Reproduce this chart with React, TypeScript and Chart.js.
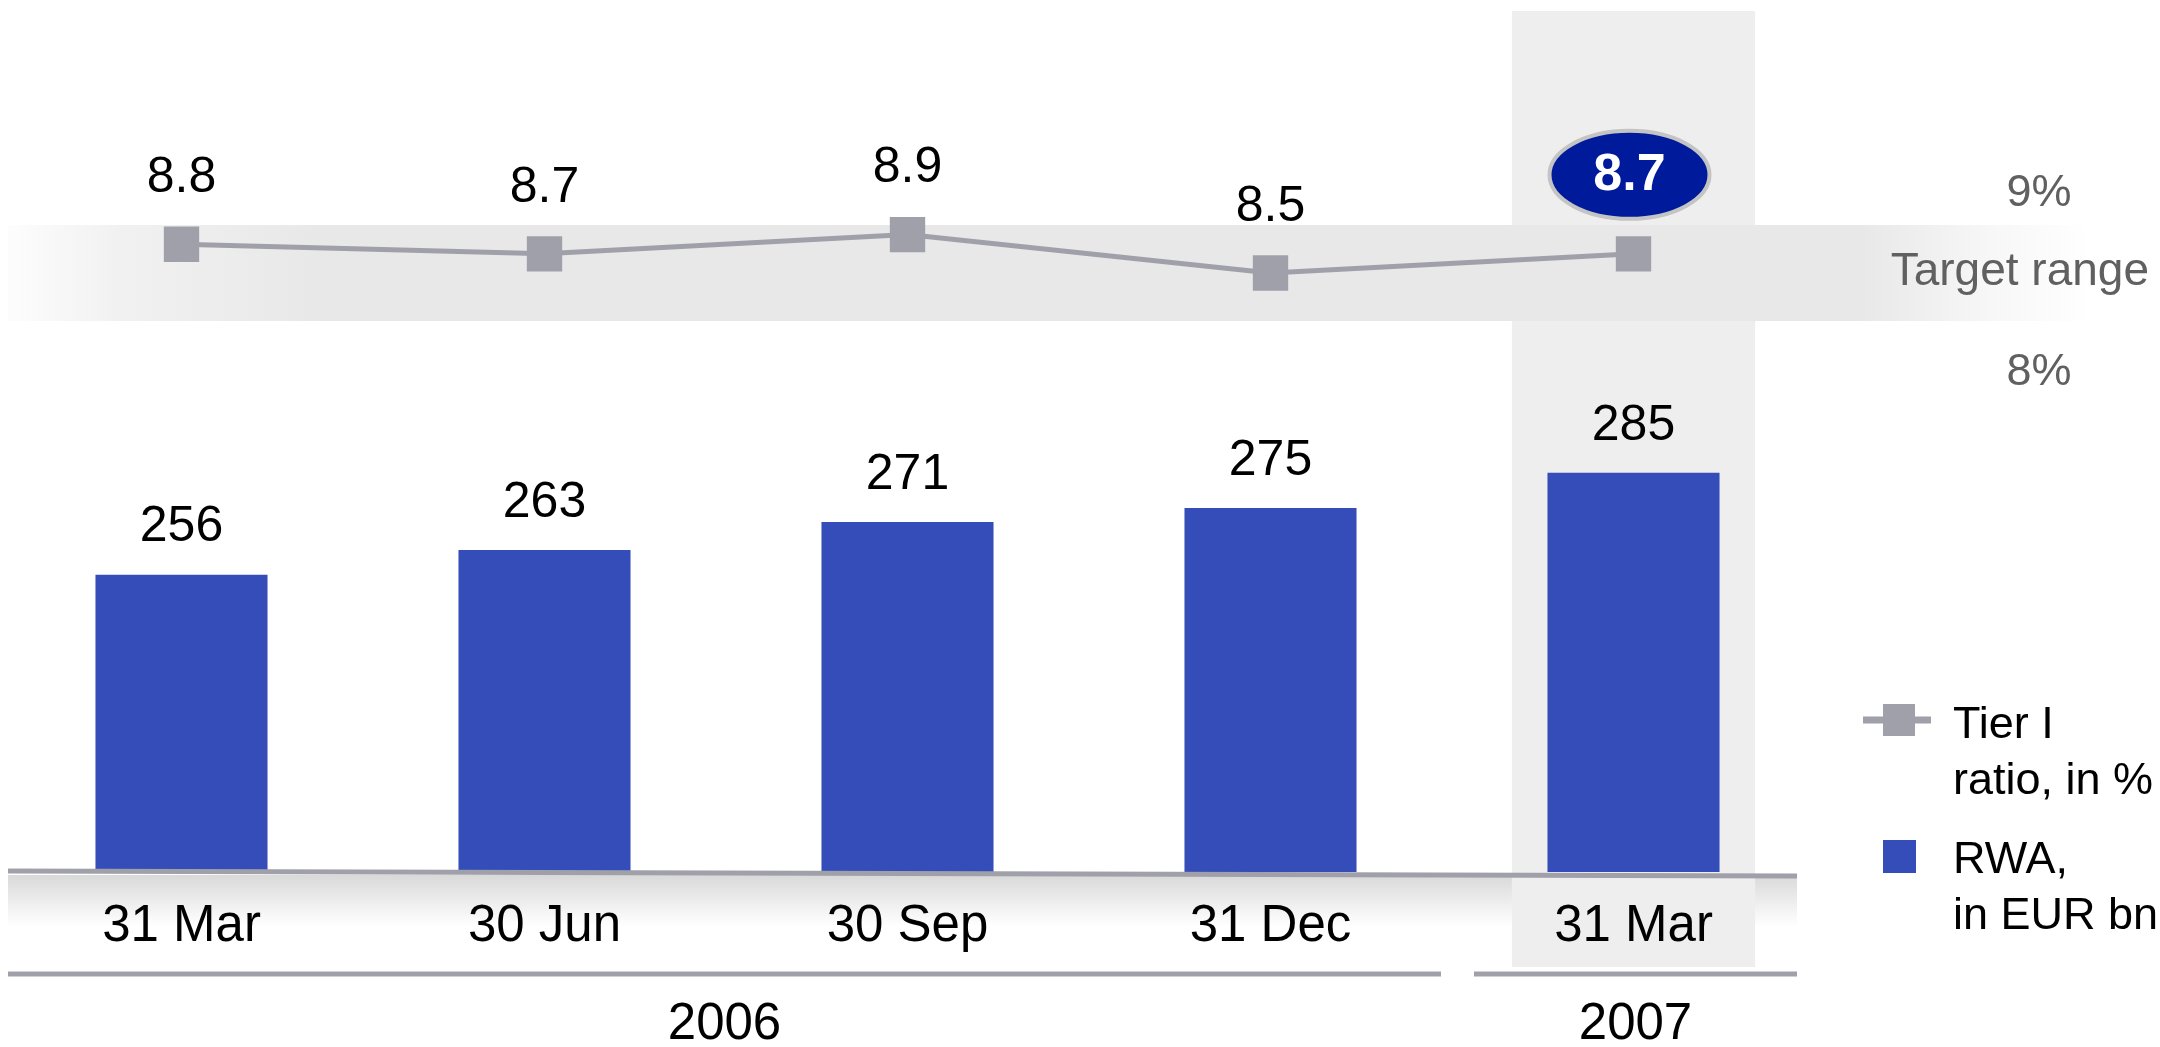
import React, { useEffect, useRef } from "react";
import { Chart, registerables } from "chart.js";

Chart.register(...registerables);

// ---- data ----
const categories = ["31 Mar", "30 Jun", "30 Sep", "31 Dec", "31 Mar"];
const rwaValues = [256, 263, 271, 275, 285];
const tierValues = [8.8, 8.7, 8.9, 8.5, 8.7];
const yearLabels = ["2006", "2007"];
const yearSpans = [
  [0, 3],
  [4, 4],
];
const highlightIndex = 4;
const targetRange = [8, 9];
const targetLabels = ["9%", "Target range", "8%"];
const legendTier = ["Tier I", "ratio, in %"];
const legendRwa = ["RWA,", "in EUR bn"];

const FONT = '"Liberation Sans", Arial, Helvetica, sans-serif';
const BAR_COLOR = "#344DB8";
const LINE_COLOR = "#A0A0AA";

const decorPlugin = {
  id: "decor",
  beforeDatasetsDraw(chart: any) {
    const { ctx, scales } = chart;
    const x = scales.x;
    const yL = scales.yLine;
    const catW = x.getPixelForValue(1) - x.getPixelForValue(0);
    const bottom = chart.chartArea.bottom;
    ctx.save();
    // bottom label band gradient
    const gb = ctx.createLinearGradient(0, bottom + 3, 0, bottom + 96);
    gb.addColorStop(0, "#D9D9D9");
    gb.addColorStop(0.55, "#FFFFFF");
    gb.addColorStop(1, "#FFFFFF");
    ctx.fillStyle = gb;
    ctx.fillRect(8, bottom + 3, 1789, 93);
    // highlight column
    const hx = x.getPixelForValue(highlightIndex);
    ctx.fillStyle = "#EEEEEE";
    ctx.fillRect(hx - catW * 0.335, 11, catW * 0.67, bottom + 95 - 11);
    // target band
    const yTop = yL.getPixelForValue(targetRange[1]);
    const yBot = yL.getPixelForValue(targetRange[0]);
    const x0 = 8;
    const x1 = 2160;
    const gw = x1 - x0;
    const g = ctx.createLinearGradient(x0, 0, x1, 0);
    g.addColorStop(0, "#FDFDFD");
    g.addColorStop((120 - x0) / gw, "#F1F1F1");
    g.addColorStop((320 - x0) / gw, "#E8E8E8");
    g.addColorStop((1860 - x0) / gw, "#E8E8E8");
    g.addColorStop((1990 - x0) / gw, "#F7F7F7");
    g.addColorStop((2090 - x0) / gw, "#FFFFFF");
    g.addColorStop(1, "#FFFFFF");
    ctx.fillStyle = g;
    ctx.fillRect(x0, yTop, gw, yBot - yTop);
    ctx.restore();
  },
  afterDatasetsDraw(chart: any) {
    const { ctx, scales } = chart;
    const x = scales.x;
    const yL = scales.yLine;
    const bottom = chart.chartArea.bottom;
    const catW = x.getPixelForValue(1) - x.getPixelForValue(0);
    ctx.save();

    // baseline (slightly sloped)
    ctx.strokeStyle = LINE_COLOR;
    ctx.lineWidth = 5;
    ctx.beginPath();
    ctx.moveTo(8, bottom - 1);
    ctx.lineTo(1797, bottom + 4);
    ctx.stroke();

    // year group lines
    ctx.lineWidth = 5;
    yearSpans.forEach((span, i) => {
      const left = x.getPixelForValue(span[0]) - catW / 2;
      const right = x.getPixelForValue(span[1]) + catW / 2;
      const a = i === 0 ? left + 8 : left + 22;
      const b = i === 0 ? right - 11 : right - 18;
      ctx.beginPath();
      ctx.moveTo(a, bottom + 102);
      ctx.lineTo(b, bottom + 102);
      ctx.stroke();
      ctx.fillStyle = "#000";
      ctx.font = `51px ${FONT}`;
      ctx.textAlign = "center";
      ctx.textBaseline = "middle";
      ctx.fillText(yearLabels[i], (a + b) / 2, bottom + 153);
    });

    // category labels
    ctx.fillStyle = "#000";
    ctx.font = `51px ${FONT}`;
    ctx.textAlign = "center";
    ctx.textBaseline = "middle";
    categories.forEach((c, i) => {
      ctx.fillText(c, x.getPixelForValue(i), bottom + 55);
    });

    // bar value labels
    const barMeta = chart.getDatasetMeta(1);
    ctx.font = `50px ${FONT}`;
    barMeta.data.forEach((el: any, i: number) => {
      ctx.fillText(String(rwaValues[i]), el.x, el.y - 47);
    });

    // line value labels
    const lineMeta = chart.getDatasetMeta(0);
    lineMeta.data.forEach((el: any, i: number) => {
      const txt = tierValues[i].toFixed(1);
      if (i === highlightIndex) {
        const cx = el.x - 4;
        const cy = el.y - 79;
        ctx.beginPath();
        ctx.ellipse(cx, cy, 80, 44, 0, 0, Math.PI * 2);
        ctx.fillStyle = "#001A9C";
        ctx.fill();
        ctx.lineWidth = 4;
        ctx.strokeStyle = "#C4C4C4";
        ctx.stroke();
        ctx.fillStyle = "#FFFFFF";
        ctx.font = `bold 52px ${FONT}`;
        ctx.fillText(txt, cx, cy + 1);
      } else {
        ctx.fillStyle = "#000";
        ctx.font = `50px ${FONT}`;
        ctx.fillText(txt, el.x, el.y - 66);
      }
    });

    // target range labels
    const yTop = yL.getPixelForValue(targetRange[1]);
    const yBot = yL.getPixelForValue(targetRange[0]);
    ctx.fillStyle = "#606060";
    ctx.font = `45px ${FONT}`;
    ctx.textAlign = "center";
    ctx.fillText(targetLabels[0], 2039, yTop - 31);
    ctx.fillText(targetLabels[2], 2039, yBot + 52);
    ctx.textAlign = "right";
    ctx.font = `46px ${FONT}`;
    ctx.fillText(targetLabels[1], 2149, (yTop + yBot) / 2 - 1);

    // legend
    ctx.strokeStyle = LINE_COLOR;
    ctx.lineWidth = 7;
    ctx.beginPath();
    ctx.moveTo(1863, 720);
    ctx.lineTo(1931, 720);
    ctx.stroke();
    ctx.fillStyle = LINE_COLOR;
    ctx.fillRect(1883, 704, 32, 32);
    ctx.fillStyle = BAR_COLOR;
    ctx.fillRect(1883, 840, 33, 33);
    ctx.fillStyle = "#000";
    ctx.font = `45px ${FONT}`;
    ctx.textAlign = "left";
    ctx.textBaseline = "alphabetic";
    ctx.fillText(legendTier[0], 1953, 738);
    ctx.fillText(legendTier[1], 1953, 794);
    ctx.fillText(legendRwa[0], 1953, 873);
    ctx.fillText(legendRwa[1], 1953, 929);

    ctx.restore();
  },
};

export default function App() {
  const ref = useRef<HTMLCanvasElement | null>(null);
  useEffect(() => {
    if (!ref.current) return;
    const chart = new Chart(ref.current, {
      type: "bar",
      data: {
        labels: categories,
        datasets: [
          {
            type: "line",
            label: "Tier I ratio, in %",
            data: tierValues,
            yAxisID: "yLine",
            borderColor: LINE_COLOR,
            borderWidth: 5,
            backgroundColor: LINE_COLOR,
            pointStyle: "rect",
            pointRadius: 25,
            pointBackgroundColor: LINE_COLOR,
            pointBorderWidth: 0,
            tension: 0,
            order: 0,
            clip: false,
          } as any,
          {
            type: "bar",
            label: "RWA, in EUR bn",
            data: rwaValues,
            yAxisID: "yBar",
            backgroundColor: BAR_COLOR,
            borderWidth: 0,
            categoryPercentage: 1,
            barPercentage: 0.474,
            order: 1,
          } as any,
        ],
      },
      options: {
        animation: false,
        responsive: false,
        layout: { autoPadding: false, padding: { left: 0, right: 345, top: 0, bottom: 175 } },
        scales: {
          x: { type: "category", display: false, offset: true },
          yBar: { type: "linear", display: false, min: 171.3, max: 419.7 },
          yLine: { type: "linear", display: false, min: 2.26, max: 11.344 },
        },
        plugins: {
          legend: { display: false },
          tooltip: { enabled: false },
        },
      },
      plugins: [decorPlugin],
    });
    return () => chart.destroy();
  }, []);
  return (
    <div style={{ position: "absolute", left: 0, top: 0, width: 2160, height: 1047, background: "#fff" }}>
      <canvas ref={ref} width={2160} height={1047} style={{ display: "block" }} />
    </div>
  );
}
